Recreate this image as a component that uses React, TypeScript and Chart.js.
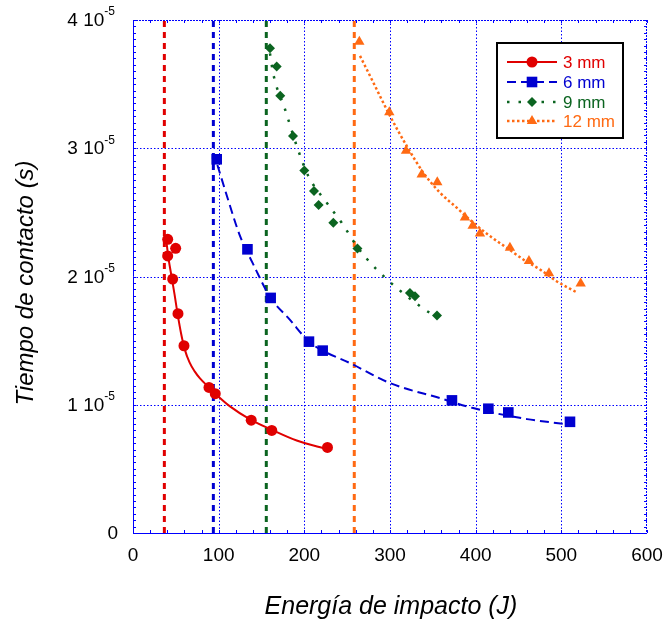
import React, { useEffect, useRef } from 'react';
import { Chart, registerables } from 'chart.js';

Chart.register(...registerables);

// ---------- data ----------
const X_TICKS = [0, 100, 200, 300, 400, 500, 600];
const Y_TICKS = [0, 1e-5, 2e-5, 3e-5, 4e-5];
const Y_TICK_MANTISSA = ['0', '1 10', '2 10', '3 10', '4 10'];
const Y_TICK_EXPONENT = ['', '-5', '-5', '-5', '-5'];
const X_GRID = [100, 200, 300, 400, 500];
const Y_GRID = [1e-5, 2e-5, 3e-5];

const SERIES_LABELS = ['3 mm', '6 mm', '9 mm', '12 mm'];
const SERIES_COLORS = ['#e00000', '#0000d0', '#0b6420', '#ff6a13'];

// vertical threshold energies (J)
const THRESHOLD_ENERGY = [36.6, 93.8, 155.6, 258.3];

// measured points: energy (J), contact time (s)
const E_3MM = [40.5, 49.8, 40.5, 46.3, 52.5, 59.5, 88.7, 96.0, 138.0, 162.0, 227.0];
const T_3MM = [2.29e-5, 2.22e-5, 2.16e-5, 1.98e-5, 1.71e-5, 1.46e-5, 1.135e-5, 1.086e-5, 0.88e-5, 0.80e-5, 0.667e-5];

const E_6MM = [97.7, 133.6, 160.7, 205.4, 221.4, 372.3, 414.8, 438.1, 510.1];
const T_6MM = [2.914e-5, 2.212e-5, 1.833e-5, 1.492e-5, 1.422e-5, 1.034e-5, 0.969e-5, 0.94e-5, 0.867e-5];

const E_9MM = [159.9, 167.7, 171.9, 186.8, 200.0, 211.3, 216.7, 233.8, 262.0, 323.3, 329.2, 354.9];
const T_9MM = [3.779e-5, 3.638e-5, 3.409e-5, 3.096e-5, 2.826e-5, 2.667e-5, 2.557e-5, 2.419e-5, 2.219e-5, 1.872e-5, 1.846e-5, 1.695e-5];

const E_12MM = [264.2, 299.2, 318.7, 337.0, 355.2, 387.5, 396.5, 405.0, 440.0, 462.2, 485.6, 522.6];
const T_12MM = [3.83e-5, 3.28e-5, 2.98e-5, 2.795e-5, 2.735e-5, 2.46e-5, 2.395e-5, 2.335e-5, 2.225e-5, 2.12e-5, 2.025e-5, 1.945e-5];

// fitted curves
const FIT_E_3MM = [38.5, 41.5, 45.0, 48.5, 52.0, 56.0, 60.5, 66.0, 72.0, 78.2, 88.7, 96.1, 113.2, 138.1, 161.9, 191.1, 226.8];
const FIT_T_3MM = [2.30e-5, 2.14e-5, 2.0e-5, 1.86e-5, 1.71e-5, 1.56e-5, 1.43e-5, 1.33e-5, 1.26e-5, 1.205e-5, 1.135e-5, 1.086e-5, 0.987e-5, 0.88e-5, 0.805e-5, 0.721e-5, 0.654e-5];

const FIT_E_6MM = [98.5, 110, 125, 140, 160.7, 183, 205.4, 221.4, 253, 300, 358, 397, 460, 505];
const FIT_T_6MM = [2.87e-5, 2.62e-5, 2.315e-5, 2.10e-5, 1.833e-5, 1.664e-5, 1.492e-5, 1.422e-5, 1.326e-5, 1.169e-5, 1.052e-5, 0.974e-5, 0.888e-5, 0.849e-5];

const FIT_E_9MM = [159.9, 163.8, 177.4, 191.1, 204.6, 226.1, 243.6, 262.0, 284.4, 335.0, 355.0];
const FIT_T_9MM = [3.74e-5, 3.578e-5, 3.305e-5, 3.018e-5, 2.784e-5, 2.576e-5, 2.419e-5, 2.23e-5, 2.055e-5, 1.768e-5, 1.68e-5];

const FIT_E_12MM = [265, 280.5, 300, 319.5, 338.9, 358.3, 377.8, 397.2, 416.7, 436.2, 455.6, 475, 494.4, 517];
const FIT_T_12MM = [3.72e-5, 3.513e-5, 3.252e-5, 3.018e-5, 2.81e-5, 2.654e-5, 2.537e-5, 2.419e-5, 2.315e-5, 2.224e-5, 2.133e-5, 2.055e-5, 1.963e-5, 1.88e-5];

// ---------- helpers ----------
const pts = (xs: number[], ys: number[]) => xs.map((x, i) => ({ x, y: ys[i] }));

const POINT_STYLES = ['circle', 'rect', 'rectRot', 'triangle'];
const POINT_RADII = [5.5, 7.5, 5, 6];
const LINE_DASHES: number[][] = [[], [9, 5], [2.5, 9], [2.5, 2.5]];
const LINE_WIDTHS = [2, 2, 2.5, 2.5];
const FONT = '"Liberation Sans", Arial, sans-serif';

function drawMarker(ctx: CanvasRenderingContext2D, style: string, x: number, y: number, r: number, color: string) {
  ctx.save();
  ctx.fillStyle = color;
  ctx.beginPath();
  if (style === 'circle') {
    ctx.arc(x, y, r, 0, Math.PI * 2);
  } else if (style === 'rect') {
    const s = r * Math.SQRT1_2;
    ctx.rect(x - s, y - s, 2 * s, 2 * s);
  } else if (style === 'rectRot') {
    ctx.moveTo(x - r, y);
    ctx.lineTo(x, y - r);
    ctx.lineTo(x + r, y);
    ctx.lineTo(x, y + r);
    ctx.closePath();
  } else {
    for (let k = 0; k < 3; k++) {
      const a = -Math.PI / 2 + (k * 2 * Math.PI) / 3;
      const px = x + Math.cos(a) * r;
      const py = y + Math.sin(a) * r;
      if (k === 0) ctx.moveTo(px, py);
      else ctx.lineTo(px, py);
    }
    ctx.closePath();
  }
  ctx.fill();
  ctx.restore();
}

const decorPlugin = {
  id: 'decor',
  beforeDatasetsDraw(chart: any) {
    const { ctx, chartArea: a, scales } = chart;
    const xs = scales.x, ys = scales.y;
    ctx.save();
    ctx.strokeStyle = '#0000ff';
    ctx.lineWidth = 1;
    ctx.setLineDash([1.5, 2]);
    X_GRID.forEach((v) => {
      const px = Math.round(xs.getPixelForValue(v)) + 0.5;
      ctx.beginPath();
      ctx.moveTo(px, a.top);
      ctx.lineTo(px, a.bottom);
      ctx.stroke();
    });
    Y_GRID.forEach((v) => {
      const py = Math.round(ys.getPixelForValue(v)) + 0.5;
      ctx.beginPath();
      ctx.moveTo(a.left, py);
      ctx.lineTo(a.right, py);
      ctx.stroke();
    });
    ctx.restore();
  },
  afterDatasetsDraw(chart: any) {
    const { ctx, chartArea: a, scales } = chart;
    const xs = scales.x, ys = scales.y;
    ctx.save();
    // frame
    ctx.strokeStyle = '#0000ff';
    ctx.lineWidth = 1;
    ctx.setLineDash([]);
    ctx.beginPath();
    ctx.moveTo(a.left + 0.5, a.top);
    ctx.lineTo(a.left + 0.5, a.bottom + 0.5);
    ctx.lineTo(a.right, a.bottom + 0.5);
    ctx.stroke();
    ctx.setLineDash([2, 1]);
    ctx.beginPath();
    ctx.moveTo(a.left, a.top + 0.5);
    ctx.lineTo(a.right - 0.5, a.top + 0.5);
    ctx.lineTo(a.right - 0.5, a.bottom);
    ctx.stroke();
    ctx.setLineDash([]);
    // minor ticks on y axis (left and right)
    for (let v = 0; v <= 4e-5 + 1e-12; v += 5e-7) {
      const py = Math.round(ys.getPixelForValue(v)) + 0.5;
      ctx.beginPath();
      ctx.moveTo(a.left, py);
      ctx.lineTo(a.left + 3, py);
      ctx.moveTo(a.right, py);
      ctx.lineTo(a.right - 3, py);
      ctx.stroke();
    }
    // minor ticks on x axis
    for (let v = 0; v <= 600; v += 20) {
      const px = Math.round(xs.getPixelForValue(v)) + 0.5;
      ctx.beginPath();
      ctx.moveTo(px, a.bottom);
      ctx.lineTo(px, a.bottom - 3);
      ctx.moveTo(px, a.top);
      ctx.lineTo(px, a.top + 3);
      ctx.stroke();
    }

    // tick labels
    ctx.fillStyle = '#000';
    ctx.font = `19px ${FONT}`;
    ctx.textAlign = 'center';
    ctx.textBaseline = 'middle';
    X_TICKS.forEach((v) => {
      ctx.fillText(String(v), xs.getPixelForValue(v), 556);
    });
    Y_TICKS.forEach((v, i) => {
      const py = ys.getPixelForValue(v);
      const right = 115;
      const mant = Y_TICK_MANTISSA[i];
      const exp = Y_TICK_EXPONENT[i];
      ctx.font = `12px ${FONT}`;
      const ew = exp ? ctx.measureText(exp).width : 0;
      ctx.textAlign = 'left';
      if (exp) ctx.fillText(exp, right - ew, py - 8);
      ctx.font = `19px ${FONT}`;
      ctx.textAlign = 'right';
      ctx.fillText(mant, right - ew + (exp ? 0 : 3), py + 1);
    });

    // axis titles
    ctx.font = `italic 25px ${FONT}`;
    ctx.textAlign = 'center';
    ctx.textBaseline = 'middle';
    ctx.fillText('Energía de impacto (J)', (a.left + a.right) / 2 + 1, 607);
    ctx.font = `italic 24px ${FONT}`;
    ctx.save();
    ctx.translate(26, 283);
    ctx.rotate(-Math.PI / 2);
    ctx.fillText('Tiempo de contacto (s)', 0, 0);
    ctx.restore();

    // legend
    const bx = 497, by = 43, bw = 126, bh = 95;
    ctx.fillStyle = '#fff';
    ctx.fillRect(bx, by, bw, bh);
    ctx.strokeStyle = '#000';
    ctx.lineWidth = 2;
    ctx.strokeRect(bx, by, bw, bh);
    const rows = [62, 82, 102, 121];
    SERIES_LABELS.forEach((lab, i) => {
      const y = rows[i];
      ctx.strokeStyle = SERIES_COLORS[i];
      ctx.lineWidth = LINE_WIDTHS[i];
      ctx.setLineDash(LINE_DASHES[i]);
      ctx.beginPath();
      ctx.moveTo(507, y);
      ctx.lineTo(557, y);
      ctx.stroke();
      ctx.setLineDash([]);
      drawMarker(ctx, POINT_STYLES[i], 532, y, POINT_RADII[i], SERIES_COLORS[i]);
      ctx.fillStyle = SERIES_COLORS[i];
      ctx.font = `17px ${FONT}`;
      ctx.textAlign = 'left';
      ctx.textBaseline = 'middle';
      ctx.fillText(lab, 563, y + 1);
    });
    ctx.restore();
  },
};

export default function App() {
  const canvasRef = useRef<HTMLCanvasElement | null>(null);

  useEffect(() => {
    if (!canvasRef.current) return;
    const measured = [
      pts(E_3MM, T_3MM),
      pts(E_6MM, T_6MM),
      pts(E_9MM, T_9MM),
      pts(E_12MM, T_12MM),
    ];
    const fits = [
      pts(FIT_E_3MM, FIT_T_3MM),
      pts(FIT_E_6MM, FIT_T_6MM),
      pts(FIT_E_9MM, FIT_T_9MM),
      pts(FIT_E_12MM, FIT_T_12MM),
    ];
    const datasets: any[] = [];
    measured.forEach((d, i) => {
      datasets.push({
        label: SERIES_LABELS[i],
        data: d,
        showLine: false,
        pointStyle: POINT_STYLES[i],
        pointRadius: POINT_RADII[i],
        pointBackgroundColor: SERIES_COLORS[i],
        pointBorderColor: SERIES_COLORS[i],
        pointBorderWidth: 0,
        order: 1,
      });
    });
    fits.forEach((d, i) => {
      datasets.push({
        label: SERIES_LABELS[i] + ' fit',
        data: d,
        showLine: true,
        pointRadius: 0,
        borderColor: SERIES_COLORS[i],
        borderWidth: LINE_WIDTHS[i],
        borderDash: LINE_DASHES[i],
        cubicInterpolationMode: 'monotone',
        fill: false,
        order: 2,
      });
    });
    THRESHOLD_ENERGY.forEach((e, i) => {
      datasets.push({
        label: SERIES_LABELS[i] + ' threshold',
        data: [
          { x: e, y: Y_TICKS[0] },
          { x: e, y: Y_TICKS[Y_TICKS.length - 1] },
        ],
        showLine: true,
        pointRadius: 0,
        borderColor: SERIES_COLORS[i],
        borderWidth: 3,
        borderDash: [6, 5],
        fill: false,
        order: 3,
      });
    });

    const chart = new Chart(canvasRef.current, {
      type: 'scatter',
      data: { datasets },
      options: {
        responsive: false,
        animation: false,
        devicePixelRatio: 1,
        layout: { padding: { top: 20, right: 18, left: 0, bottom: 0 } },
        plugins: { legend: { display: false }, tooltip: { enabled: false } },
        scales: {
          x: {
            type: 'linear',
            min: 0,
            max: 600,
            ticks: { display: false, stepSize: 100 },
            grid: { display: false },
            border: { display: false },
            afterFit: (s: any) => { s.height = 93; },
          },
          y: {
            type: 'linear',
            min: 0,
            max: 4e-5,
            ticks: { display: false },
            grid: { display: false },
            border: { display: false },
            afterFit: (s: any) => { s.width = 133; },
          },
        },
      } as any,
      plugins: [decorPlugin],
    });
    return () => chart.destroy();
  }, []);

  return (
    <div style={{ position: 'fixed', left: 0, top: 0, width: 665, height: 626, background: '#fff' }}>
      <canvas ref={canvasRef} width={665} height={626} style={{ display: 'block' }} />
    </div>
  );
}
